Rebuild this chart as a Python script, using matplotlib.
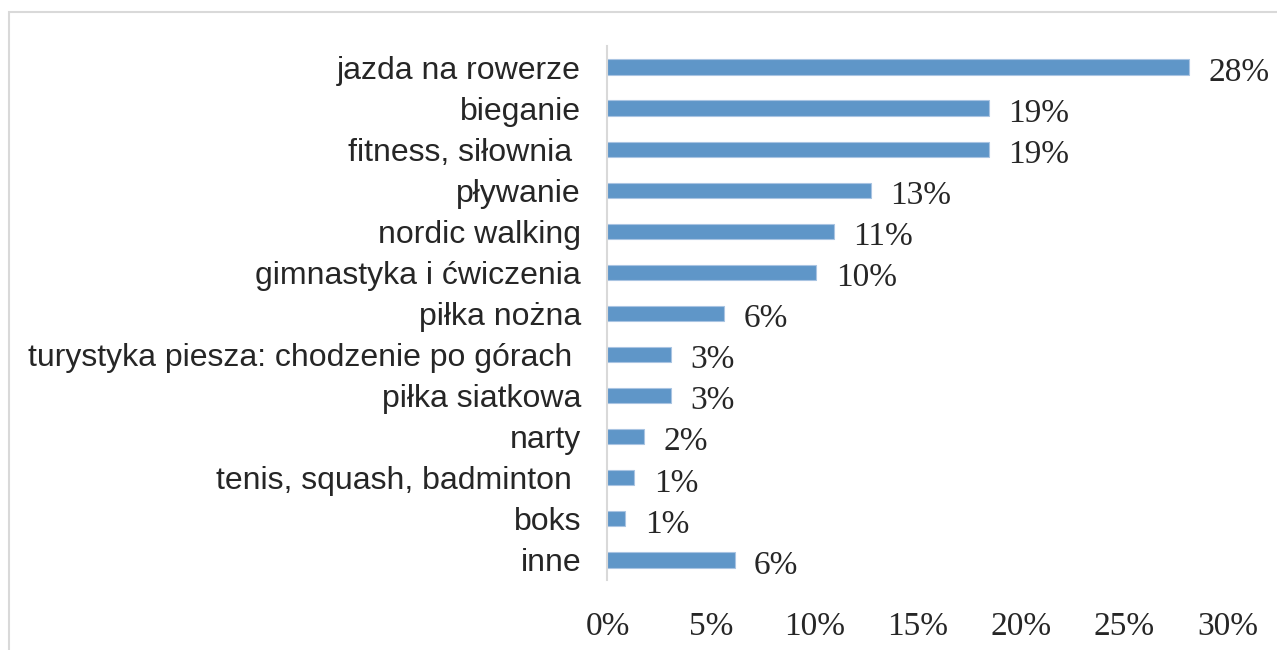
import matplotlib
matplotlib.use("Agg")
import matplotlib.pyplot as plt
from matplotlib.patches import Rectangle

# data
categories = ["jazda na rowerze", "bieganie", "fitness, siłownia ", "pływanie",
              "nordic walking", "gimnastyka i ćwiczenia", "piłka nożna",
              "turystyka piesza: chodzenie po górach ", "piłka siatkowa", "narty",
              "tenis, squash, badminton ", "boks", "inne"]
values = [28.1, 18.45, 18.45, 12.75, 10.95, 10.1, 5.65, 3.05, 3.05, 1.75, 1.3, 0.87, 6.15]
value_labels = ["28%", "19%", "19%", "13%", "11%", "10%", "6%", "3%", "3%",
                "2%", "1%", "1%", "6%"]
xticks = [0, 5, 10, 15, 20, 25, 30]
xtick_labels = ["0%", "5%", "10%", "15%", "20%", "25%", "30%"]

fig = plt.figure(figsize=(12.77, 6.5), dpi=100)
ax = fig.add_axes([0.4757, 0.107, 0.9616 - 0.4757, 0.9285 - 0.107])

pos = list(range(len(categories)))
ax.barh(pos, values, height=0.37, color="#5f96c8", edgecolor="#a9c4e2", linewidth=0.8)
ax.set_ylim(len(categories) - 0.5, -0.5)
ax.set_xlim(0, 30)

ax.set_yticks(pos)
ax.set_yticklabels(categories, fontsize=23, family="Liberation Sans", color="#262626",
                   va="center_baseline")
ax.set_xticks(xticks)
ax.set_xticklabels(xtick_labels, fontsize=24, family="Liberation Serif", color="#262626")
ax.tick_params(axis="y", length=0, pad=19)
ax.tick_params(axis="x", length=0, pad=22)

for y, v, lab in zip(pos, values, value_labels):
    ax.annotate(lab, (v, y), xytext=(14, -4), textcoords="offset points",
                va="center", ha="left", fontsize=24, family="Liberation Serif",
                color="#262626")

for s in ["top", "right", "bottom"]:
    ax.spines[s].set_visible(False)
ax.spines["left"].set_color("#d9d9d9")
ax.spines["left"].set_linewidth(1.5)

# light frame around the chart area
fig.patches.append(Rectangle((9 / 1277, -0.1), 1.2, 1.1 - 12 / 650, transform=fig.transFigure,
                             fill=False, edgecolor="#d9d9d9", linewidth=1.5))

fig.savefig("out.png", dpi=100)
